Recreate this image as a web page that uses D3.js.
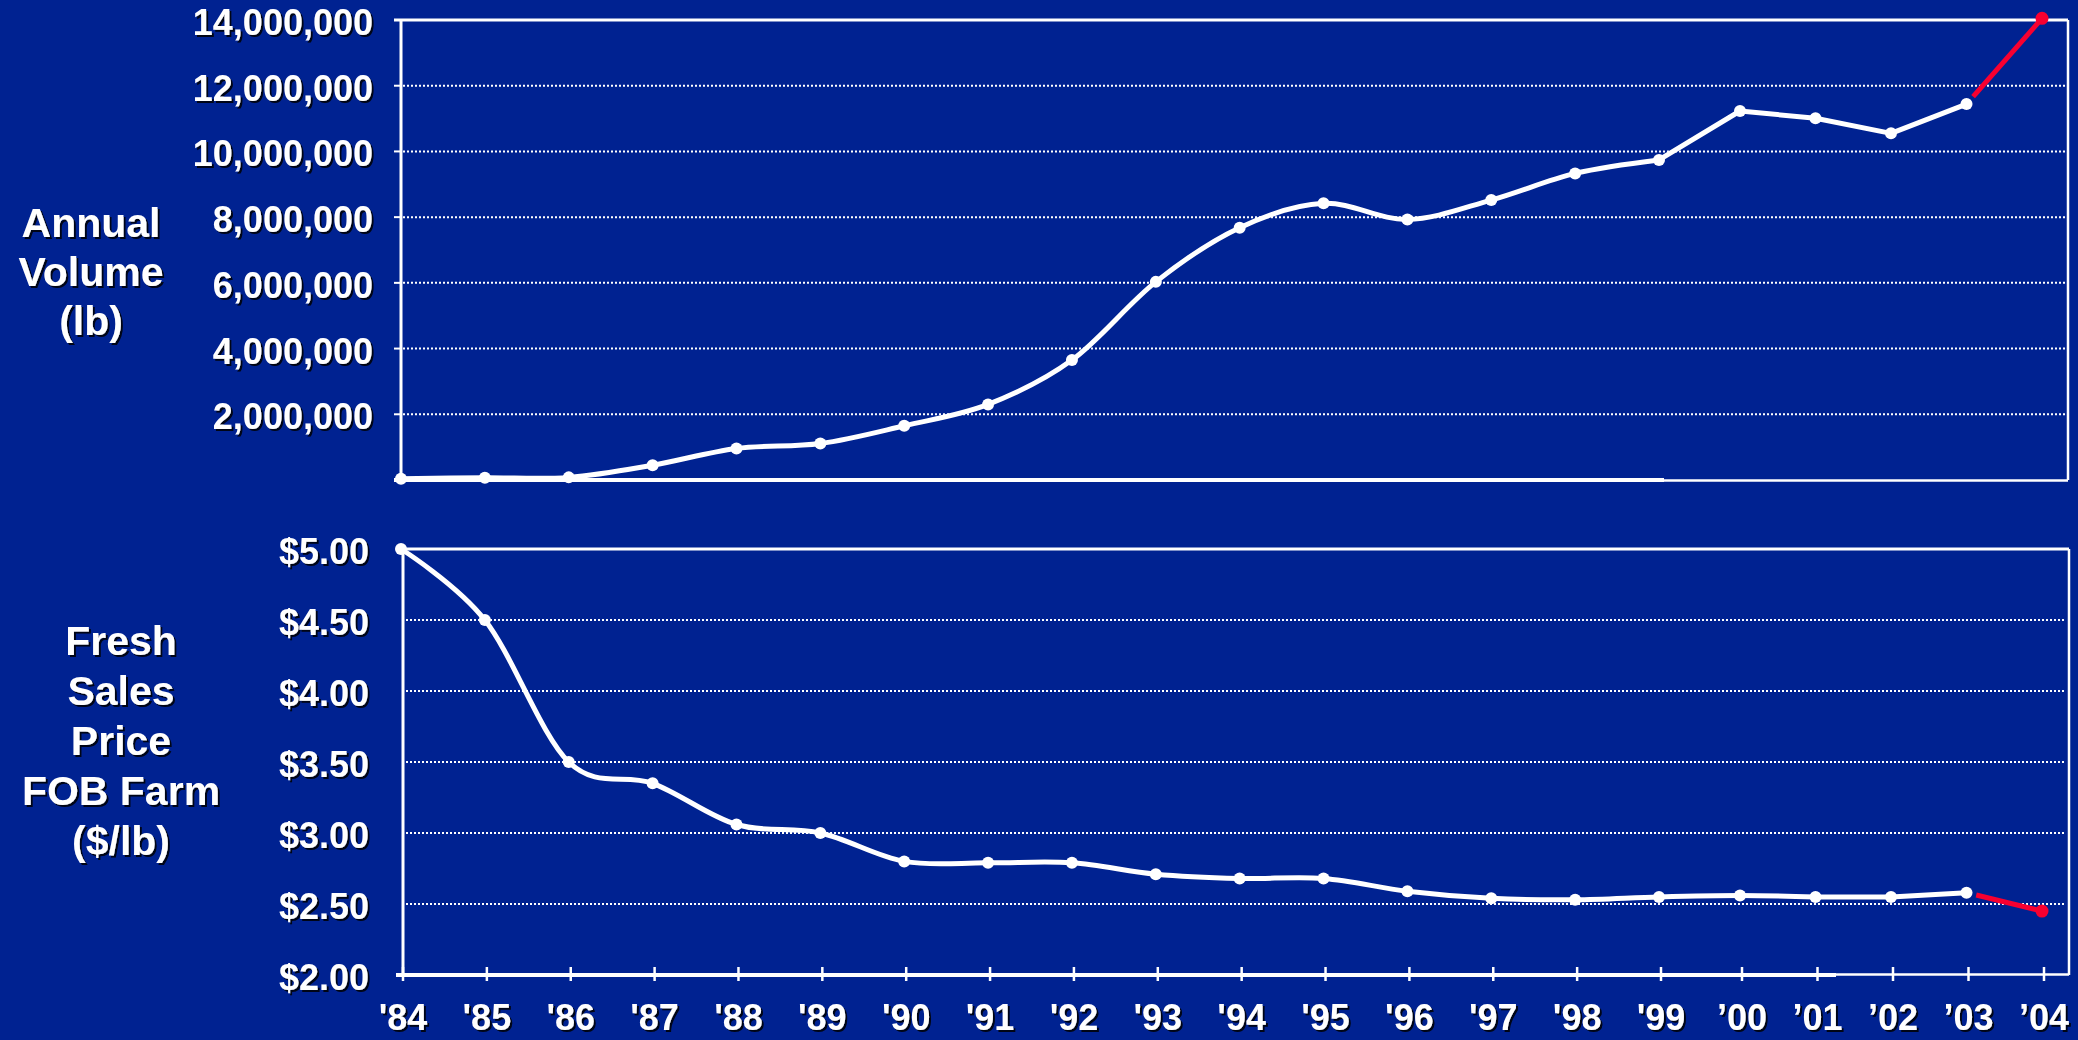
<!DOCTYPE html>
<html>
<head>
<meta charset="utf-8">
<script src="https://cdn.jsdelivr.net/npm/d3@7/dist/d3.min.js"></script>
<style>
  html, body { margin: 0; padding: 0; background: #002291; }
  svg { display: block; }
  text { font-family: "Liberation Sans", Arial, sans-serif; font-weight: bold; fill: #ffffff; }
</style>
</head>
<body>
<svg id="chart" width="2078" height="1040"></svg>
<script>
// ---- data ----
const years = [1984, 1985, 1986, 1987, 1988, 1989, 1990, 1991, 1992, 1993, 1994,
               1995, 1996, 1997, 1998, 1999, 2000, 2001, 2002, 2003, 2004];
const yearLabels = ["'84", "'85", "'86", "'87", "'88", "'89", "'90", "'91", "'92", "'93", "'94",
                    "'95", "'96", "'97", "'98", "'99", "\u201900", "\u201901", "\u201902", "\u201903", "\u201904"];
// annual volume, lb
const volume = [40000, 70000, 80000, 450000, 960000, 1110000, 1650000, 2300000, 3650000, 6030000, 7680000,
                8420000, 7930000, 8520000, 9330000, 9740000, 11230000, 11010000, 10550000, 11440000, 14050000];
// fresh sales price FOB farm, $/lb
const price = [5.00, 4.50, 3.50, 3.35, 3.06, 3.00, 2.80, 2.79, 2.79, 2.71, 2.68,
               2.68, 2.59, 2.54, 2.53, 2.55, 2.56, 2.55, 2.55, 2.58, 2.45];
const volumeTicks = [2000000, 4000000, 6000000, 8000000, 10000000, 12000000, 14000000];
const volumeTickLabels = ["2,000,000", "4,000,000", "6,000,000", "8,000,000", "10,000,000", "12,000,000", "14,000,000"];
const priceTicks = [2.0, 2.5, 3.0, 3.5, 4.0, 4.5, 5.0];
const priceTickLabels = ["$2.00", "$2.50", "$3.00", "$3.50", "$4.00", "$4.50", "$5.00"];
const volumeTitle = ["Annual", "Volume", "(lb)"];
const priceTitle = ["Fresh", "Sales", "Price", "FOB Farm", "($/lb)"];
// last smoothed year of each series; after it the line runs straight, final year in red
const volumeSmoothEnd = 1999;
const priceSmoothEnd = 2001;
const forecastYear = 2004;

// ---- layout ----
const WHITE = "#ffffff";
const RED = "#f80030";
const svg = d3.select("#chart");

const defs = svg.append("defs");
const f = defs.append("filter").attr("id", "shadow")
  .attr("x", "-10%").attr("y", "-10%").attr("width", "130%").attr("height", "130%");
f.append("feDropShadow").attr("dx", 2).attr("dy", 2).attr("stdDeviation", 0.6)
  .attr("flood-color", "#000000").attr("flood-opacity", 0.85);

// year positions: evenly spaced through '99, slightly tighter afterwards
const x = d3.scaleLinear()
  .domain([1984, 1999, 2000, 2004])
  .range([401, 1659, 1740, 2042]);

const volBox = { left: 401, right: 2068, top: 20, bottom: 480 };
const priceBox = { left: 403, right: 2069, top: 549, bottom: 975 };

const yVol = d3.scaleLinear().domain([0, 14000000]).range([volBox.bottom, volBox.top]);
const yPrice = d3.scaleLinear().domain([2, 5]).range([priceBox.bottom, priceBox.top]);

function line(g, x1, y1, x2, y2, w, dash) {
  const l = g.append("line").attr("x1", x1).attr("y1", y1).attr("x2", x2).attr("y2", y2)
    .attr("stroke", WHITE).attr("stroke-width", w);
  if (dash) l.attr("stroke-dasharray", dash);
  return l;
}

// ---------- top panel: annual volume ----------
const gTop = svg.append("g");
volumeTicks.forEach(v => {
  const yy = yVol(v);
  if (v < 14000000) {
    line(gTop, volBox.left + 2, yy, volBox.right - 3, yy, 2, "2,2");
  }
  line(gTop, volBox.left - 7, yy, volBox.left, yy, 2);
});
// frame
line(gTop, volBox.left - 7, volBox.top, volBox.right, volBox.top, 3);
line(gTop, volBox.left, volBox.top, volBox.left, volBox.bottom, 3);
line(gTop, volBox.right, volBox.top, volBox.right, volBox.bottom, 2.5);
line(gTop, volBox.left - 7, volBox.bottom, 1664, volBox.bottom, 4);
line(gTop, 1664, volBox.bottom + 0.5, volBox.right, volBox.bottom + 0.5, 2.5);

// tick labels
gTop.append("g").selectAll("text").data(volumeTicks).join("text")
  .attr("x", 373).attr("y", d => yVol(d) + 15)
  .attr("text-anchor", "end").attr("font-size", 36)
  .attr("filter", "url(#shadow)")
  .text((d, i) => volumeTickLabels[i]);

// title
gTop.append("g").selectAll("text").data(volumeTitle).join("text")
  .attr("x", 91).attr("y", (d, i) => 237 + i * 49)
  .attr("text-anchor", "middle").attr("font-size", 41)
  .attr("filter", "url(#shadow)")
  .text(d => d);

// ---------- bottom panel: price ----------
const gBot = svg.append("g");
priceTicks.forEach(v => {
  if (v > 2 && v < 5) {
    const yy = yPrice(v);
    line(gBot, priceBox.left + 3, yy, priceBox.right - 3, yy, 2, "2,2");
  }
});
line(gBot, priceBox.left - 2, priceBox.top, priceBox.right, priceBox.top, 3);
line(gBot, priceBox.left, priceBox.top, priceBox.left, priceBox.bottom, 3);
line(gBot, priceBox.right, priceBox.top, priceBox.right, priceBox.bottom, 2.5);
line(gBot, priceBox.left - 7, priceBox.bottom, 1836, priceBox.bottom, 4);
line(gBot, 1836, priceBox.bottom - 0.5, priceBox.right, priceBox.bottom - 0.5, 2.5);

// x ticks crossing the axis
gBot.append("g").selectAll("line").data(years).join("line")
  .attr("x1", d => x(d) + 2).attr("x2", d => x(d) + 2)
  .attr("y1", priceBox.bottom - 8).attr("y2", priceBox.bottom + 6)
  .attr("stroke", WHITE).attr("stroke-width", 2.5);

gBot.append("g").selectAll("text").data(years).join("text")
  .attr("x", d => x(d) + 2).attr("y", 1030)
  .attr("text-anchor", "middle").attr("font-size", 36)
  .attr("filter", "url(#shadow)")
  .text((d, i) => yearLabels[i]);

gBot.append("g").selectAll("text").data(priceTicks).join("text")
  .attr("x", 369).attr("y", d => yPrice(d) + 15)
  .attr("text-anchor", "end").attr("font-size", 36)
  .attr("filter", "url(#shadow)")
  .text((d, i) => priceTickLabels[i]);

gBot.append("g").selectAll("text").data(priceTitle).join("text")
  .attr("x", 121).attr("y", (d, i) => 655 + i * 50)
  .attr("text-anchor", "middle").attr("font-size", 41)
  .attr("filter", "url(#shadow)")
  .text(d => d);

// ---------- series ----------
function drawSeries(g, values, yScale, smoothEnd) {
  const pts = years.map((yr, i) => ({ yr, v: values[i] }));
  const smooth = pts.filter(p => p.yr <= smoothEnd);
  const straight = pts.filter(p => p.yr >= smoothEnd && p.yr < forecastYear);
  const last = pts.filter(p => p.yr >= forecastYear - 1);

  const curve = d3.line().x(p => x(p.yr)).y(p => yScale(p.v)).curve(d3.curveCardinal.tension(0));
  const straightLine = d3.line().x(p => x(p.yr)).y(p => yScale(p.v));

  g.append("path").attr("d", curve(smooth)).attr("fill", "none")
    .attr("stroke", WHITE).attr("stroke-width", 5).attr("stroke-linejoin", "round");
  g.append("path").attr("d", straightLine(straight)).attr("fill", "none")
    .attr("stroke", WHITE).attr("stroke-width", 5).attr("stroke-linejoin", "round");

  // red forecast segment, starting just clear of the previous marker
  const x0 = x(last[0].yr), y0 = yScale(last[0].v);
  const x1 = x(last[1].yr), y1 = yScale(last[1].v);
  const len = Math.hypot(x1 - x0, y1 - y0);
  const t = 10 / len;
  g.append("line")
    .attr("x1", x0 + (x1 - x0) * t).attr("y1", y0 + (y1 - y0) * t)
    .attr("x2", x1).attr("y2", y1)
    .attr("stroke", RED).attr("stroke-width", 5);

  g.append("g").selectAll("circle").data(pts).join("circle")
    .attr("cx", p => x(p.yr)).attr("cy", p => yScale(p.v))
    .attr("r", p => p.yr === forecastYear ? 6.5 : 6)
    .attr("fill", p => p.yr === forecastYear ? RED : WHITE);
}

drawSeries(svg.append("g"), volume, yVol, volumeSmoothEnd);
drawSeries(svg.append("g"), price, yPrice, priceSmoothEnd);
</script>
</body>
</html>
